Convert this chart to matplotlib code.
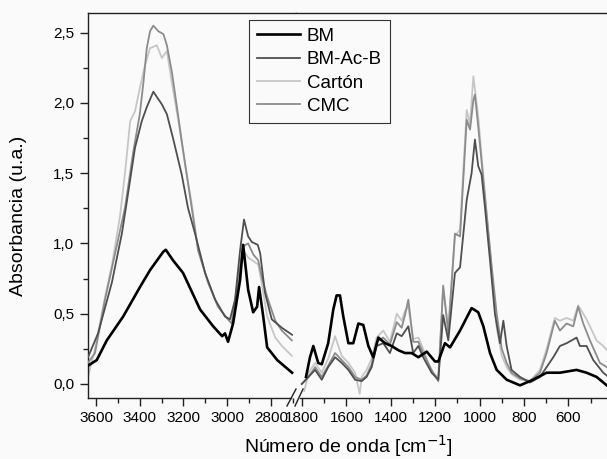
import matplotlib
matplotlib.use("Agg")
import matplotlib.pyplot as plt
from matplotlib.lines import Line2D
from matplotlib.ticker import MultipleLocator, FuncFormatter

plt.rcParams['font.family'] = ['Liberation Sans', 'DejaVu Sans']

# ---- data (wavenumber cm-1, absorbance) ----
# left panel (3637 - 2700)
wl_bm = [3637, 3597, 3551, 3476, 3399, 3353, 3293, 3281, 3248, 3202, 3124, 3064, 3023,
         3010, 2996, 2973, 2941, 2927, 2904, 2881, 2863, 2854, 2835, 2817, 2771, 2703]
bm_l = [0.13, 0.17, 0.31, 0.48, 0.69, 0.81, 0.94, 0.955, 0.88, 0.79, 0.53, 0.41, 0.34,
        0.36, 0.30, 0.43, 0.74, 0.99, 0.67, 0.51, 0.55, 0.69, 0.48, 0.26, 0.17, 0.08]

wl_ac = [3637, 3591, 3528, 3482, 3460, 3422, 3391, 3368, 3338, 3299, 3276, 3248, 3208,
         3179, 3147, 3101, 3055, 3010, 2987, 2964, 2941, 2923, 2904, 2887, 2860, 2849,
         2827, 2796, 2750, 2703]
ac_l = [0.19, 0.36, 0.72, 1.07, 1.29, 1.68, 1.87, 1.97, 2.08, 1.99, 1.92, 1.75, 1.49,
        1.25, 1.07, 0.79, 0.60, 0.48, 0.46, 0.60, 0.95, 1.17, 1.05, 1.01, 0.99, 0.93,
        0.65, 0.46, 0.40, 0.35]

wl_ca = [3637, 3605, 3559, 3527, 3490, 3467, 3444, 3422, 3399, 3376, 3353, 3322, 3299,
         3276, 3254, 3223, 3193, 3162, 3133, 3087, 3042, 3002, 2979, 2950, 2927, 2904,
         2858, 2840, 2817, 2780, 2749, 2704]
ca_l = [0.05, 0.25, 0.62, 0.85, 1.20, 1.51, 1.87, 1.94, 2.11, 2.27, 2.39, 2.41, 2.32,
        2.37, 2.15, 1.87, 1.56, 1.28, 0.95, 0.72, 0.55, 0.47, 0.43, 0.74, 0.95, 0.90,
        0.85, 0.70, 0.48, 0.33, 0.27, 0.20]

wl_cm = [3637, 3605, 3559, 3510, 3467, 3430, 3400, 3383, 3368, 3353, 3338, 3315, 3292,
         3276, 3253, 3230, 3208, 3185, 3162, 3133, 3087, 3042, 3002, 2979, 2950, 2927,
         2904, 2880, 2858, 2840, 2817, 2780, 2750, 2704]
cm_l = [0.15, 0.22, 0.60, 0.95, 1.26, 1.65, 1.92, 2.15, 2.39, 2.51, 2.55, 2.51, 2.49,
        2.41, 2.22, 1.97, 1.73, 1.49, 1.25, 0.95, 0.72, 0.55, 0.47, 0.43, 0.74, 0.98,
        1.00, 0.92, 0.88, 0.75, 0.62, 0.45, 0.38, 0.31]

# right panel (1800 - 427)
wr_bm = [1782, 1764, 1749, 1727, 1711, 1682, 1659, 1644, 1629, 1614, 1591, 1569, 1546,
         1524, 1501, 1479, 1456, 1426, 1396, 1366, 1336, 1306, 1276, 1238, 1201, 1186,
         1156, 1133, 1088, 1036, 1006, 983, 953, 923, 878, 818, 759, 698, 638, 563, 518,
         473, 427]
bm_r = [0.05, 0.19, 0.27, 0.15, 0.14, 0.29, 0.53, 0.63, 0.63, 0.48, 0.29, 0.29, 0.43,
        0.42, 0.27, 0.19, 0.33, 0.29, 0.27, 0.24, 0.22, 0.22, 0.19, 0.23, 0.16, 0.16,
        0.29, 0.26, 0.38, 0.54, 0.51, 0.41, 0.22, 0.10, 0.03, -0.01, 0.03, 0.08, 0.08,
        0.10, 0.08, 0.05, -0.01]

wr_ac = [1801, 1741, 1711, 1682, 1651, 1621, 1591, 1561, 1531, 1509, 1486, 1464, 1434,
         1404, 1373, 1351, 1321, 1299, 1276, 1254, 1216, 1186, 1164, 1141, 1111, 1088,
         1058, 1036, 1021, 1006, 991, 976, 953, 931, 908, 893, 878, 856, 818, 773, 728,
         698, 668, 638, 608, 563, 548, 518, 488, 443, 427]
ac_r = [0.00, 0.10, 0.03, 0.12, 0.19, 0.15, 0.10, 0.03, 0.02, 0.05, 0.12, 0.27, 0.29,
        0.22, 0.36, 0.34, 0.41, 0.22, 0.27, 0.19, 0.08, 0.03, 0.49, 0.31, 0.79, 0.83,
        1.31, 1.50, 1.74, 1.55, 1.49, 1.26, 0.88, 0.50, 0.29, 0.45, 0.27, 0.10, 0.05,
        0.01, 0.05, 0.12, 0.19, 0.27, 0.29, 0.33, 0.27, 0.27, 0.17, 0.08, 0.06]

wr_ca = [1790, 1770, 1741, 1711, 1682, 1651, 1621, 1591, 1561, 1540, 1531, 1509, 1486,
         1464, 1434, 1404, 1373, 1351, 1336, 1321, 1299, 1276, 1254, 1216, 1186, 1164,
         1141, 1111, 1088, 1058, 1043, 1028, 1006, 983, 945, 923, 900, 878, 856, 818,
         773, 728, 698, 661, 638, 608, 578, 556, 518, 473, 443, 427]
ca_r = [-0.05, 0.08, 0.15, 0.08, 0.18, 0.34, 0.20, 0.15, 0.08, -0.07, 0.05, 0.10, 0.18,
        0.33, 0.38, 0.30, 0.50, 0.45, 0.52, 0.55, 0.32, 0.33, 0.25, 0.08, 0.05, 0.68,
        0.40, 1.05, 1.10, 1.95, 1.85, 2.19, 1.90, 1.48, 0.80, 0.40, 0.20, 0.12, 0.07,
        0.03, 0.02, 0.10, 0.25, 0.47, 0.45, 0.47, 0.45, 0.56, 0.46, 0.31, 0.27, 0.24]

wr_cm = [1801, 1770, 1741, 1711, 1682, 1651, 1621, 1591, 1561, 1531, 1509, 1486, 1464,
         1434, 1404, 1373, 1351, 1336, 1321, 1299, 1276, 1254, 1216, 1186, 1164, 1141,
         1111, 1088, 1058, 1043, 1028, 1021, 1006, 983, 945, 923, 900, 878, 856, 818,
         773, 728, 698, 661, 638, 608, 578, 556, 533, 503, 458, 427]
cm_r = [0.00, 0.05, 0.12, 0.05, 0.13, 0.22, 0.17, 0.12, 0.05, 0.03, 0.06, 0.14, 0.30,
        0.33, 0.28, 0.44, 0.40, 0.49, 0.60, 0.30, 0.30, 0.22, 0.10, 0.02, 0.70, 0.36,
        1.07, 1.05, 1.88, 1.81, 2.02, 2.06, 1.83, 1.45, 0.83, 0.50, 0.25, 0.15, 0.08,
        0.04, 0.02, 0.08, 0.22, 0.45, 0.38, 0.43, 0.41, 0.55, 0.43, 0.31, 0.15, 0.12]

labels = ["BM", "BM-Ac-B", "Cartón", "CMC"]
colors = ["#000000", "#4f4f4f", "#c6c6c6", "#8c8c8c"]
widths = [1.9, 1.3, 1.3, 1.3]
zorders = [5, 4, 2, 3]

W, H = 607, 459
fig = plt.figure(figsize=(W / 100, H / 100), dpi=100, facecolor="#fafafa")

def px(x0, y0, x1, y1):
    return [x0 / W, 1 - y1 / H, (x1 - x0) / W, (y1 - y0) / H]

axl = fig.add_axes(px(88, 13, 296, 398))
axr = fig.add_axes(px(296, 13, 607, 398))

left_sets = [(wl_bm, bm_l), (wl_ac, ac_l), (wl_ca, ca_l), (wl_cm, cm_l)]
right_sets = [(wr_bm, bm_r), (wr_ac, ac_r), (wr_ca, ca_r), (wr_cm, cm_r)]

handles = []
for i in range(4):
    h, = axl.plot(left_sets[i][0], left_sets[i][1], color=colors[i], lw=widths[i],
                  zorder=zorders[i])
    axr.plot(right_sets[i][0], right_sets[i][1], color=colors[i], lw=widths[i],
             zorder=zorders[i])
    handles.append(h)

for ax in (axl, axr):
    ax.set_facecolor("#fafafa")
    ax.set_ylim(-0.1, 2.64)
    ax.spines['right'].set_visible(False)
    for s in ('top', 'bottom', 'left'):
        ax.spines[s].set_color("#222222")
        ax.spines[s].set_linewidth(1.0)
    ax.tick_params(axis='x', which='major', direction='out', length=6, width=1,
                   labelsize=11, pad=3, color="#222222")
    ax.tick_params(axis='x', which='minor', direction='out', length=3.5, width=1,
                   color="#222222")
    ax.xaxis.set_major_locator(MultipleLocator(200))
    ax.xaxis.set_minor_locator(MultipleLocator(100))

axl.set_xlim(3637, 2685)
axr.set_xlim(1827, 426)
axl.spines['bottom'].set_bounds(3637, 2710)
axr.spines['bottom'].set_bounds(1810, 426)

axl.yaxis.set_major_locator(MultipleLocator(0.5))
axl.yaxis.set_minor_locator(MultipleLocator(0.25))
axl.yaxis.set_major_formatter(FuncFormatter(lambda v, p: f"{v:.1f}".replace('.', ',')))
axl.tick_params(axis='y', which='major', direction='out', length=6, width=1,
                labelsize=11, pad=4, color="#222222")
axl.tick_params(axis='y', which='minor', direction='out', length=3.5, width=1,
                color="#222222")
axl.set_xticks([3600, 3400, 3200, 3000, 2800])

axr.spines['left'].set_visible(False)
axr.tick_params(axis='y', which='both', left=False, labelleft=False)
axr.set_xticks([1800, 1600, 1400, 1200, 1000, 800, 600])
axr.set_xticks([1700, 1500, 1300, 1100, 900, 700, 500], minor=True)

# break marks on the x axis
for (x0, y0, x1, y1) in [(287, 406, 296, 389), (295, 406, 303, 389)]:
    fig.add_artist(Line2D([x0 / W, x1 / W], [1 - y0 / H, 1 - y1 / H],
                          color="#222222", lw=1.0, transform=fig.transFigure))

fig.text(348 / W, 1 - 446 / H, "Número de onda [cm$^{-1}$]", ha='center', va='center',
         fontsize=14)
fig.text(19 / W, 1 - 216 / H, "Absorbancia (u.a.)", ha='center', va='center',
         rotation=90, fontsize=14)

leg = fig.legend(handles, labels, loc='upper left', bbox_to_anchor=(249 / W, 1 - 20 / H),
                 bbox_transform=fig.transFigure, fontsize=13.5, frameon=True,
                 fancybox=False, edgecolor="#333333", facecolor="#fafafa", framealpha=1,
                 handlelength=2.3, handletextpad=0.35, borderpad=0.42, labelspacing=0.33,
                 borderaxespad=0)
leg.get_frame().set_linewidth(0.8)
leg.set_zorder(10)

fig.savefig("out.png", dpi=100, facecolor=fig.get_facecolor())
